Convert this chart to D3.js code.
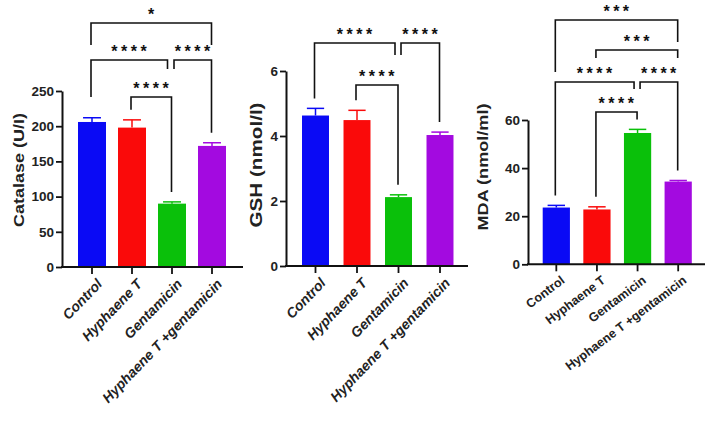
<!DOCTYPE html>
<html lang="en">
<head>
<meta charset="UTF-8">
<title>Catalase / GSH / MDA</title>
<script src="https://d3js.org/d3.v7.min.js"></script>
<style>
  body { margin: 0; background: #fff; }
  svg { display: block; font-family: "Liberation Sans", Arial, sans-serif; }
</style>
</head>
<body>
<svg width="709" height="421"></svg>
<script>
// groups (same on every panel)
const categories = ["Control", "Hyphaene T", "Gentamicin", "Hyphaene T +gentamicin"];
const colors = ["#0a0af5", "#fa0a0a", "#0ac00a", "#a30ae0"];

// Catalase (U/l)
const catalaseMean = [206, 198, 90, 172];
const catalaseErr = [6, 11, 2.5, 4.5];
const catalaseTicks = [0, 50, 100, 150, 200, 250];
const catalaseStars = [
  {a: 1, b: 2, text: "****"},
  {a: 0, b: 2, text: "****"},
  {a: 2, b: 3, text: "****"},
  {a: 0, b: 3, text: "*"}
];

// GSH (nmol/l)
const gshMean = [4.63, 4.49, 2.12, 4.03];
const gshErr = [0.22, 0.3, 0.07, 0.09];
const gshTicks = [0, 2, 4, 6];
const gshStars = [
  {a: 1, b: 2, text: "****"},
  {a: 0, b: 2, text: "****"},
  {a: 2, b: 3, text: "****"}
];

// MDA (nmol/ml)
const mdaMean = [23.6, 22.8, 54.6, 34.4];
const mdaErr = [0.9, 1.1, 1.5, 0.45];
const mdaTicks = [0, 20, 40, 60];
const mdaStars = [
  {a: 1, b: 2, text: "****"},
  {a: 0, b: 2, text: "****"},
  {a: 2, b: 3, text: "****"},
  {a: 1, b: 3, text: "***"},
  {a: 0, b: 3, text: "***"}
];

// layout of each panel (pixels)
const panels = [
  {
    title: "Catalase (U/I)", mean: catalaseMean, err: catalaseErr, ticks: catalaseTicks,
    xLine: [62, 243], band: [72, 232], pad: 0.3, yRange: [267, 91],
    titleX: 19, titleY: 170, titleLen: 114, titleSize: 15,
    tickFont: "italic bold 14px 'Liberation Sans'", rot: -46, labelY: 278,
    brackets: [{y: 97}, {y: 60, dl: 37, dr: 9, or: -4}, {y: 60, dl: 9, ol: 3}, {y: 23, dl: 22, dr: 22}]
  },
  {
    title: "GSH (nmol/l)", mean: gshMean, err: gshErr, ticks: gshTicks,
    xLine: [286, 468], band: [294.75, 460.75], pad: 0.35, yRange: [266, 71],
    titleX: 256, titleY: 165, titleLen: 125, titleSize: 16,
    tickFont: "italic bold 14px 'Liberation Sans'", rot: -46, labelY: 277,
    brackets: [{y: 85}, {y: 43, dr: 12, or: -3}, {y: 43, dl: 12, ol: 3.5}]
  },
  {
    title: "MDA (nmol/ml)", mean: mdaMean, err: mdaErr, ticks: mdaTicks,
    xLine: [528, 705], band: [536, 698.5], pad: 0.33, yRange: [264.3, 120],
    titleX: 483, titleY: 167, titleLen: 127, titleSize: 15,
    tickFont: "bold 12.5px 'Liberation Sans'", rot: -37, labelY: 275,
    brackets: [{y: 112}, {y: 82, dr: 7, or: -3}, {y: 82, dl: 7, ol: 3.5}, {y: 50, dl: 8, dr: 8}, {y: 20, dl: 52, dr: 22}]
  }
];
const starSets = [catalaseStars, gshStars, mdaStars];

const svg = d3.select("svg");

panels.forEach((p, pi) => {
  const g = svg.append("g");
  const x = d3.scaleBand().domain(categories).range(p.band)
    .paddingInner(p.pad).paddingOuter(p.pad / 2);
  const y = d3.scaleLinear().domain([0, d3.max(p.ticks)]).range(p.yRange);
  const cx = i => x(categories[i]) + x.bandwidth() / 2;

  // bars
  g.selectAll(".bar").data(p.mean).join("rect")
    .attr("x", (d, i) => x(categories[i]))
    .attr("y", d => y(d))
    .attr("width", x.bandwidth())
    .attr("height", d => y(0) - y(d))
    .attr("fill", (d, i) => colors[i]);

  // error bars (upper only)
  const cap = x.bandwidth() * 0.32;
  p.mean.forEach((m, i) => {
    g.append("line").attr("x1", cx(i)).attr("x2", cx(i))
      .attr("y1", y(m)).attr("y2", y(m + p.err[i]))
      .attr("stroke", colors[i]).attr("stroke-width", 1.5);
    g.append("line").attr("x1", cx(i) - cap).attr("x2", cx(i) + cap)
      .attr("y1", y(m + p.err[i])).attr("y2", y(m + p.err[i]))
      .attr("stroke", colors[i]).attr("stroke-width", 1.5);
  });

  // y axis
  const ya = g.append("g")
    .attr("transform", `translate(${p.xLine[0]},0)`)
    .call(d3.axisLeft(y).tickValues(p.ticks).tickFormat(d3.format("d"))
      .tickSize(6).tickSizeOuter(0).tickPadding(2));
  ya.select(".domain").attr("stroke", "#111").attr("stroke-width", 2);
  ya.selectAll(".tick line").attr("stroke", "#111").attr("stroke-width", 1.8);
  ya.selectAll(".tick text").attr("fill", "#222")
    .style("font", "bold 13.5px 'Liberation Sans'");

  // x axis
  const xa = g.append("g")
    .attr("transform", `translate(0,${p.yRange[0]})`)
    .call(d3.axisBottom(x).tickSize(7).tickFormat(""));
  xa.select(".domain").remove();
  xa.selectAll(".tick line").attr("stroke", "#111").attr("stroke-width", 1.8);
  g.append("line")
    .attr("x1", p.xLine[0] - 1).attr("x2", p.xLine[1])
    .attr("y1", p.yRange[0]).attr("y2", p.yRange[0])
    .attr("stroke", "#111").attr("stroke-width", 2);

  // rotated group labels
  categories.forEach((c, i) => {
    g.append("text")
      .attr("transform", `translate(${cx(i) + 4},${p.labelY}) rotate(${p.rot})`)
      .attr("text-anchor", "end")
      .attr("dy", "0.7em")
      .attr("fill", "#222")
      .style("font", p.tickFont)
      .text(c);
  });

  // y title
  g.append("text")
    .attr("transform", `translate(${p.titleX},${p.titleY}) rotate(-90)`)
    .attr("text-anchor", "middle")
    .attr("dy", "0.35em")
    .attr("textLength", p.titleLen)
    .attr("lengthAdjust", "spacingAndGlyphs")
    .attr("fill", "#222")
    .style("font", `bold ${p.titleSize}px 'Liberation Sans'`)
    .text(p.title);

  // significance brackets
  starSets[pi].forEach((s, k) => {
    const L = p.brackets[k];
    const xl = cx(s.a) - 1 + (L.ol || 0);
    const xr = cx(s.b) - 0.5 + (L.or || 0);
    const auto = i => y(p.mean[i] + p.err[i]) - 10;
    const yl = L.dl != null ? L.y + L.dl : auto(s.a);
    const yr = L.dr != null ? L.y + L.dr : auto(s.b);
    g.append("path")
      .attr("d", `M${xl},${yl}V${L.y}H${xr}V${yr}`)
      .attr("fill", "none").attr("stroke", "#111").attr("stroke-width", 1.6);
    g.append("text")
      .attr("x", (xl + xr) / 2 + 1.5).attr("y", L.y - 3)
      .attr("text-anchor", "middle")
      .attr("fill", "#111")
      .style("font", "bold 16px 'Liberation Sans'")
      .style("letter-spacing", "3.5px")
      .text(s.text);
  });
});
</script>
</body>
</html>
